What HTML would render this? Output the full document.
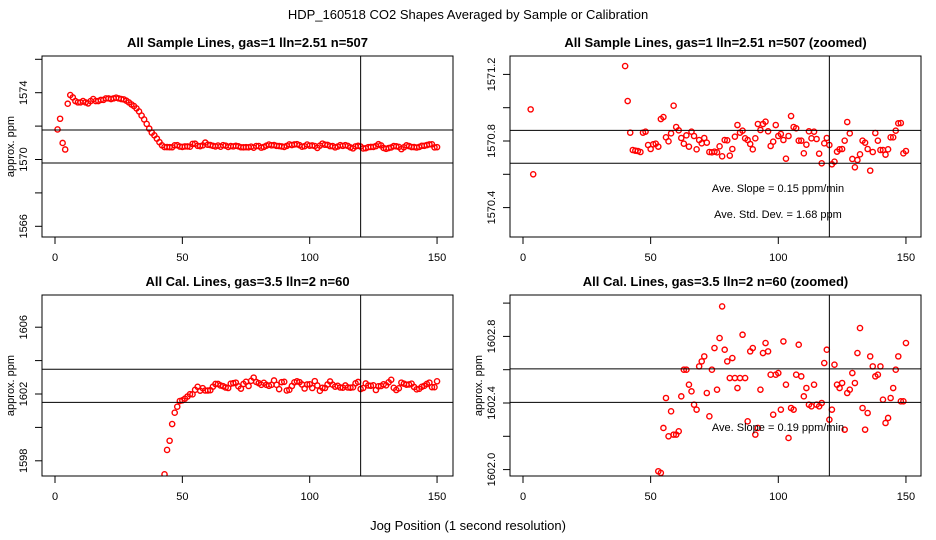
<!DOCTYPE html>
<html><head><meta charset="utf-8"><style>
html,body{margin:0;padding:0;background:#fff;width:936px;height:540px;overflow:hidden}
svg{display:block;font-family:"Liberation Sans",sans-serif}
</style></head><body>
<svg id="chart" width="936" height="540" viewBox="0 0 936 540">
<text x="468" y="19" text-anchor="middle" font-size="13">HDP_160518  CO2 Shapes Averaged by Sample or Calibration</text>
<text x="468" y="530" text-anchor="middle" font-size="13">Jog Position (1 second resolution)</text>
</svg>
<script>
// sample series, x = 1..150
const sampleX0 = 1;
const sampleValues = [1571.8,1572.44,1570.99,1570.6,1573.34,1573.86,1573.72,1573.5,1573.42,1573.42,1573.5,1573.42,1573.36,1573.5,1573.62,1573.5,1573.5,1573.57,1573.57,1573.66,1573.66,1573.62,1573.66,1573.7,1573.66,1573.62,1573.6,1573.52,1573.42,1573.3,1573.2,1573.06,1572.88,1572.63,1572.4,1572.13,1571.85,1571.61,1571.45,1571.25,
1571.04,1570.85,1570.746,1570.742,1570.74,1570.734,1570.85,1570.856,1570.776,1570.752,1570.78,1570.784,1570.766,1570.932,1570.944,1570.822,1570.798,1570.846,1571.012,1570.884,1570.864,1570.818,1570.784,1570.834,1570.766,1570.856,1570.83,1570.75,1570.806,1570.786,1570.818,1570.79,1570.734,1570.732,1570.736,1570.732,1570.768,1570.708,1570.806,1570.804,1570.712,1570.752,1570.826,1570.896,1570.85,1570.862,1570.816,1570.806,1570.782,1570.75,1570.816,1570.902,1570.866,1570.902,1570.916,1570.858,1570.77,1570.796,1570.896,1570.83,1570.842,1570.806,1570.694,1570.83,1570.95,1570.884,1570.876,1570.802,1570.802,1570.726,1570.778,1570.858,1570.816,1570.856,1570.812,1570.724,1570.666,1570.786,1570.818,1570.776,1570.66,1570.676,1570.736,1570.75,1570.752,1570.802,1570.914,1570.846,1570.692,1570.642,1570.686,1570.72,1570.802,1570.79,1570.752,1570.622,1570.734,1570.848,1570.802,1570.746,1570.746,1570.718,1570.75,1570.822,1570.822,1570.862,1570.906,1570.908,1570.726,1570.74];
// calibration series, x = 43..150
const calX0 = 43;
const calValues = [1597.19,1598.65,1599.2,1600.2,1600.88,1601.24,1601.58,1601.62,1601.72,1601.85,
1601.99,1601.98,1602.25,1602.43,1602.2,1602.35,1602.21,1602.21,1602.23,1602.44,1602.6,1602.6,1602.51,1602.47,1602.39,1602.36,1602.62,1602.65,1602.68,1602.46,1602.32,1602.6,1602.73,1602.48,1602.79,1602.98,1602.72,1602.65,1602.55,1602.67,1602.55,1602.49,1602.55,1602.81,1602.55,1602.29,1602.71,1602.73,1602.21,1602.25,1602.48,1602.7,1602.76,1602.71,1602.57,1602.33,1602.57,1602.58,1602.36,1602.77,1602.51,1602.19,1602.37,1602.36,1602.57,1602.75,1602.56,1602.44,1602.49,1602.39,1602.38,1602.51,1602.39,1602.38,1602.4,1602.64,1602.72,1602.3,1602.36,1602.63,1602.51,1602.49,1602.52,1602.24,1602.46,1602.48,1602.58,1602.52,1602.7,1602.85,1602.37,1602.24,1602.34,1602.68,1602.62,1602.56,1602.57,1602.62,1602.42,1602.28,1602.31,1602.43,1602.49,1602.6,1602.68,1602.41,1602.41,1602.76];
const xTicks = [0,50,100,150];
const ticksTL = [1566,1568,1570,1572,1574,1576];
const labelsTL = ["1566","","1570","","1574",""];
const ticksTR = [1570.4,1570.6,1570.8,1571.0,1571.2];
const labelsTR = ["1570.4","","1570.8","","1571.2"];
const ticksBL = [1598,1600,1602,1604,1606];
const labelsBL = ["1598","","1602","","1606"];
const ticksBR = [1602.0,1602.2,1602.4,1602.6,1602.8,1603.0];
const labelsBR = ["1602.0","","1602.4","","1602.8",""];
const hlinesTL = [1571.77,1569.79];
const hlinesTR = [1570.864,1570.666];
const hlinesBL = [1603.48,1601.5];
const hlinesBR = [1602.605,1602.404];
const vlineX = 120;

const NS="http://www.w3.org/2000/svg";
const svg=document.getElementById('chart');
function mk(t,a,p){const e=document.createElementNS(NS,t);for(const k in a)e.setAttribute(k,a[k]);(p||svg).appendChild(e);return e;}

const panels=[
 {id:'tl',title:'All Sample Lines, gas=1 lln=2.51 n=507',box:[42,56,453,237],x0:55,xs:2.547,v0:1570,p0:159.5,ys:16.7,ticks:ticksTL,labels:labelsTL,h:hlinesTL,vals:sampleValues,sx:sampleX0,ylab:10},
 {id:'tr',title:'All Sample Lines, gas=1 lln=2.51 n=507 (zoomed)',box:[510,56,921,237],x0:523,xs:2.553,v0:1570.8,p0:141,ys:166.5,ticks:ticksTR,labels:labelsTR,h:hlinesTR,vals:sampleValues,sx:sampleX0,ylab:null,
   notes:[['Ave. Slope =  0.15  ppm/min',192],['Ave. Std. Dev. =  1.68  ppm',218]]},
 {id:'bl',title:'All Cal. Lines, gas=3.5 lln=2 n=60',box:[42,295,453,476],x0:55,xs:2.547,v0:1602,p0:394,ys:16.7,ticks:ticksBL,labels:labelsBL,h:hlinesBL,vals:calValues,sx:calX0,ylab:10},
 {id:'br',title:'All Cal. Lines, gas=3.5 lln=2 n=60 (zoomed)',box:[510,295,921,476],x0:523,xs:2.553,v0:1602.4,p0:403,ys:166.5,ticks:ticksBR,labels:labelsBR,h:hlinesBR,vals:calValues,sx:calX0,ylab:478,
   notes:[['Ave. Slope =  0.19  ppm/min',431]]}
];

panels.forEach(P=>{
 const [l,t,r,b]=P.box;
 const X=x=>P.x0+x*P.xs, Y=v=>P.p0-(v-P.v0)*P.ys;
 const g=mk('g',{});
 
 
 const cx=(l+r)/2;
 const tt=mk('text',{x:cx,y:t-9,'text-anchor':'middle','font-size':13,'font-weight':'bold'},g);
 tt.textContent=P.title;
 
 
 const cp=mk('clipPath',{id:'c'+P.id},g);
 mk('rect',{x:l,y:t,width:r-l,height:b-t},cp);
 xTicks.forEach(v=>{
  const px=X(v);
  const tk=mk('line',{x1:px,x2:px,y1:b,y2:b+7,stroke:'#000'},g);
  
  
  const tl=mk('text',{x:px,y:b+24,'text-anchor':'middle','font-size':11},g);
  tl.textContent=v;
  
  
 });
 P.ticks.forEach((v,i)=>{
  const py=Y(v);
  const tk=mk('line',{x1:l-7,x2:l,y1:py,y2:py,stroke:'#000'},g);
  
  
  if(P.labels[i]){
   const tx=l-15;
   const tl=mk('text',{x:tx,y:py,'text-anchor':'middle','font-size':11,transform:`rotate(-90 ${tx} ${py})`},g);
   tl.textContent=P.labels[i];
   
   
  }
 });
 if(P.ylab!==null){
  const my=(t+b)/2;
  const yl=mk('text',{x:P.ylab,y:my,'text-anchor':'middle','font-size':11,transform:`rotate(-90 ${P.ylab} ${my})`,dy:'4'},g);
  yl.textContent='approx. ppm';
  
  
 }
 const pts=mk('g',{'clip-path':`url(#c${P.id})`},g);
 
 
 P.vals.forEach((v,i)=>{
  const c=mk('circle',{cx:X(P.sx+i),cy:Y(v),r:2.6,fill:'none',stroke:'#f00','stroke-width':1.4},pts);
  
  
 });
 const ref=mk('g',{'clip-path':`url(#c${P.id})`},g);
 P.h.forEach(v=>{
  const hl=mk('line',{x1:l,x2:r,y1:Y(v),y2:Y(v),stroke:'#000','stroke-width':1},ref);
  
  
 });
 const vl=mk('line',{x1:X(vlineX),x2:X(vlineX),y1:t,y2:b,stroke:'#000'},ref);
 
 
 const bx=mk('rect',{x:l,y:t,width:r-l,height:b-t,fill:'none',stroke:'#000'},g);
 
 
 (P.notes||[]).forEach(n=>{
  const nt=mk('text',{x:778,y:n[1],'text-anchor':'middle','font-size':11},g);
  nt.textContent=n[0];
  
  
 });
});
</script>
</body></html>
